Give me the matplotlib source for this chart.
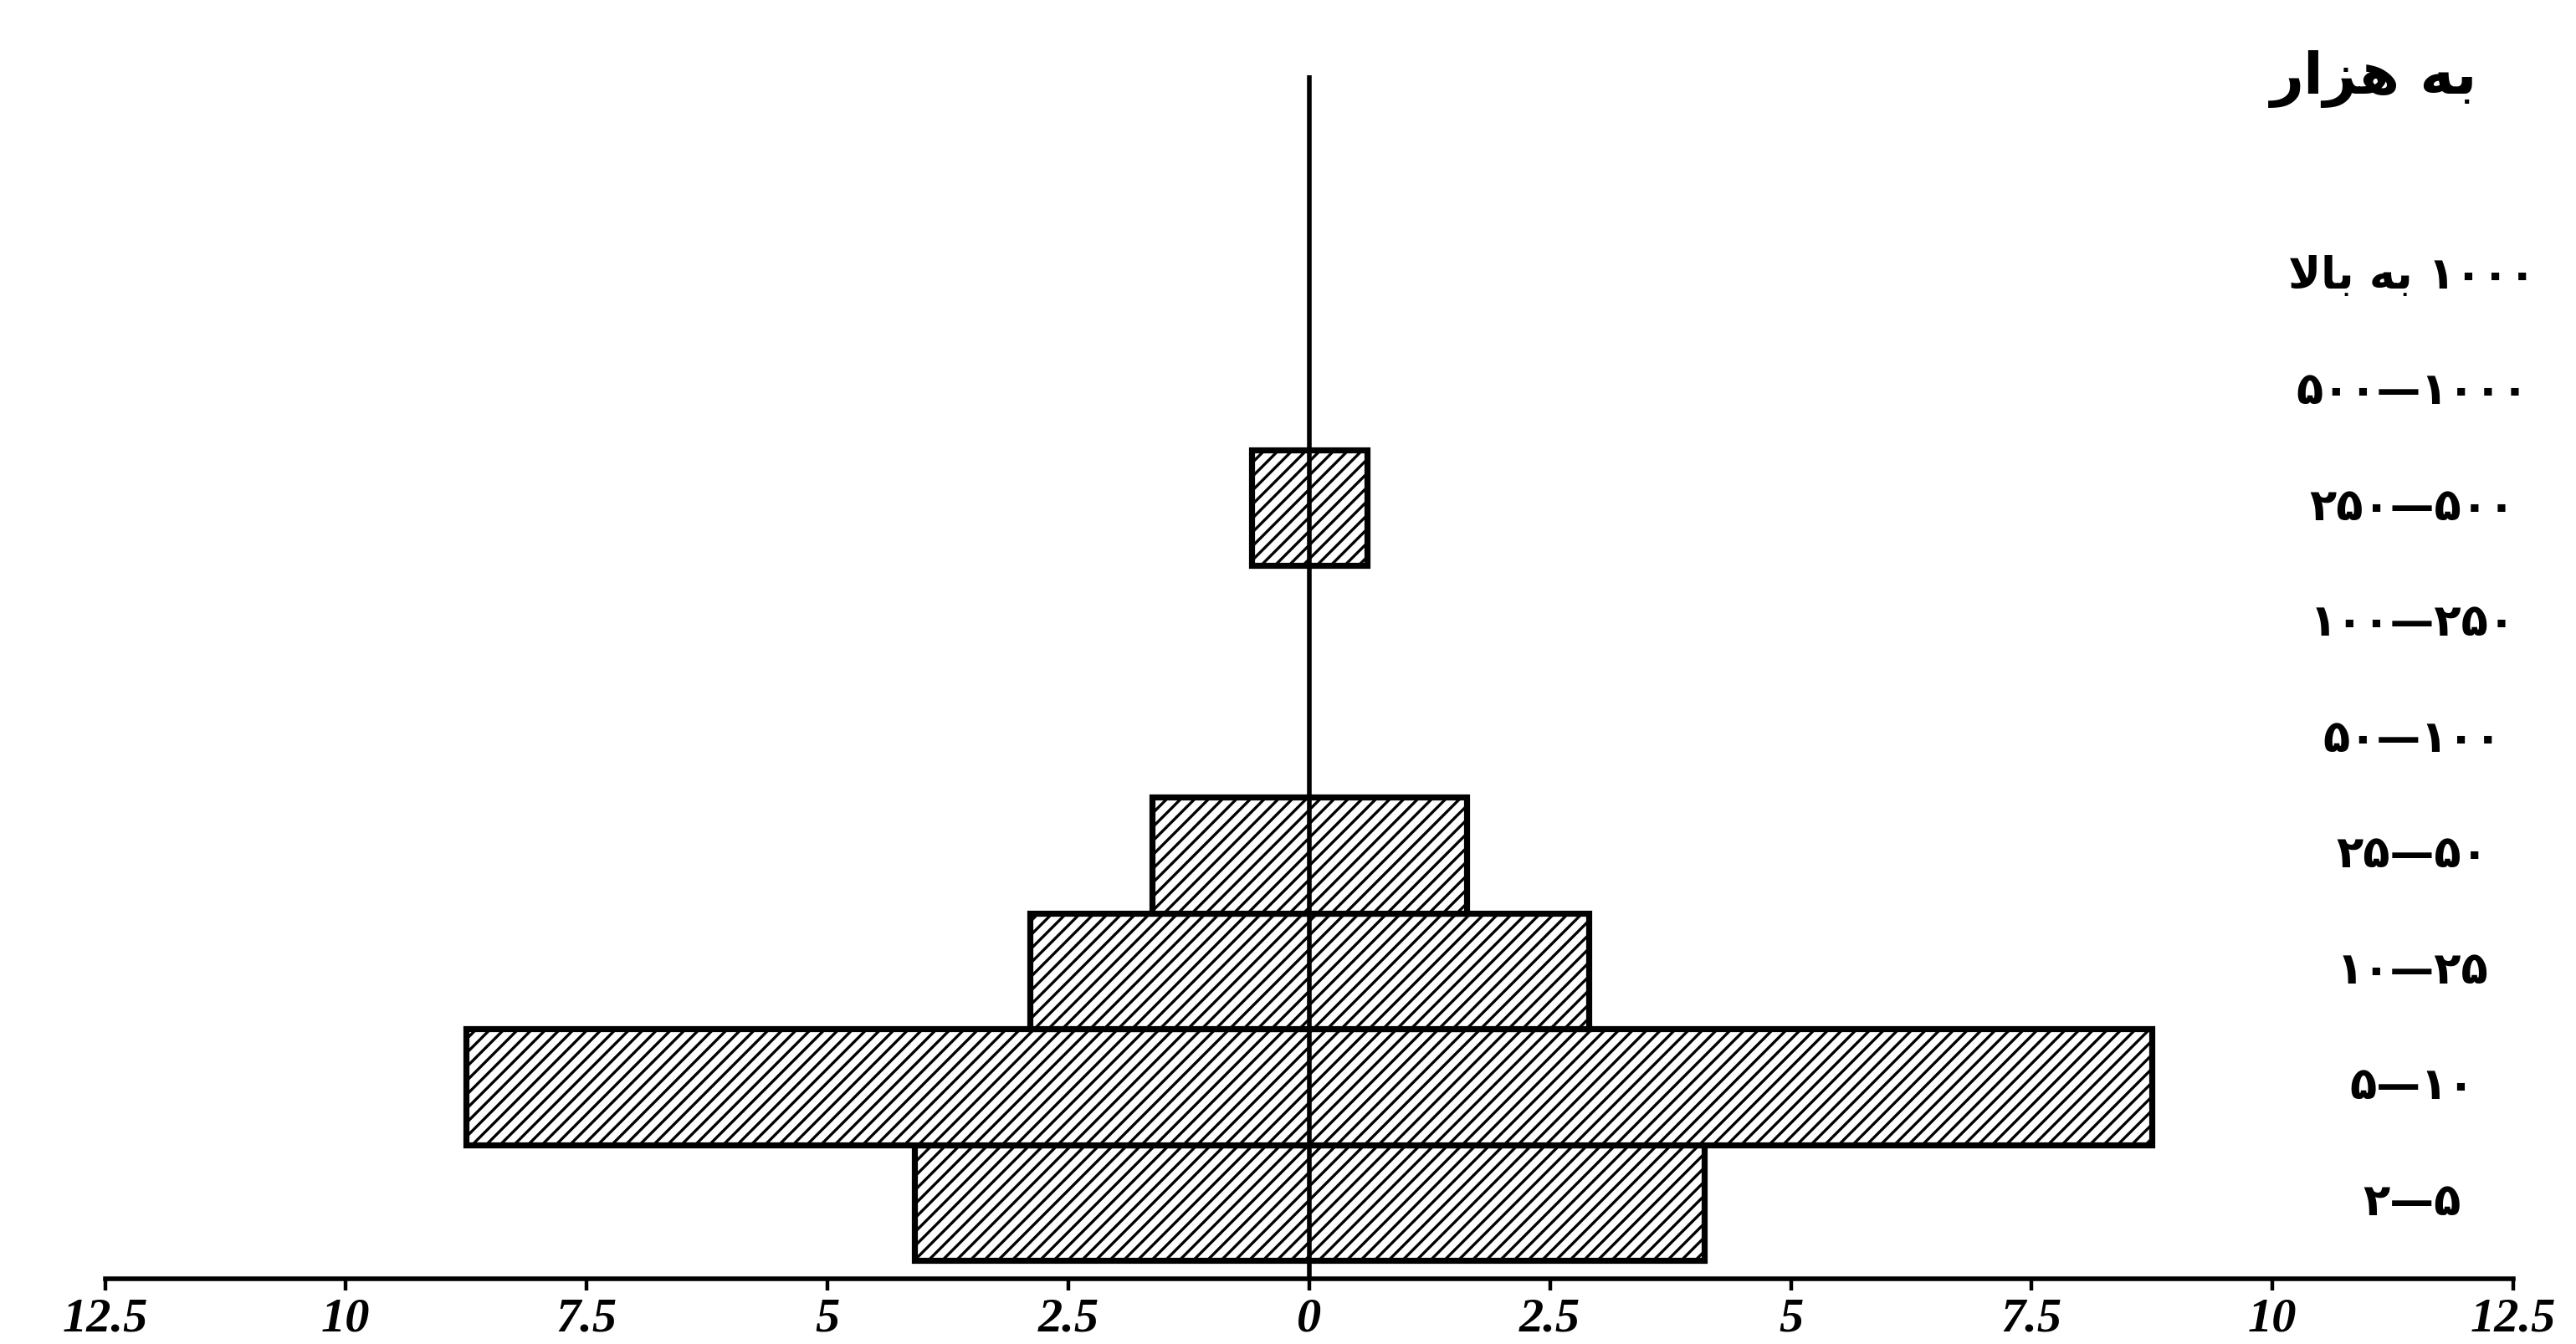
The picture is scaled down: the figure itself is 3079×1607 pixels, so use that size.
import numpy as np
import matplotlib
matplotlib.use('Agg')
import matplotlib.pyplot as plt

# income groups (bottom to top), labels as they appear on the page
groups = ['۲—۵', '۵—۱۰', '۱۰—۲۵', '۲۵—۵۰', '۵۰—۱۰۰',
          '۱۰۰—۲۵۰', '۲۵۰—۵۰۰', '۵۰۰—۱۰۰۰',
          '\uFEFB\uFE8E\uFE91 \uFEEA\uFE91 ۱۰۰۰']
# half width of each bar (same on both sides of zero)
values = [4.1, 8.75, 2.9, 1.63, 0.0, 0.0, 0.6, 0.0, 0.0]
xticks = [-12.5, -10, -7.5, -5, -2.5, 0, 2.5, 5, 7.5, 10, 12.5]
xtick_labels = ['12.5', '10', '7.5', '5', '2.5', '0', '2.5', '5', '7.5', '10', '12.5']
unit_label = '\uFEAD\uFE8D\uFEB0\uFEEB \uFEEA\uFE91'  # "به هزار"

plt.rcParams['hatch.linewidth'] = 1.2
plt.rcParams['hatch.color'] = 'black'

fig = plt.figure(figsize=(15.395, 8.035), dpi=200)
ax = fig.add_axes([0, 0, 1, 1])
ax.set_xlim(-13.59, 13.15)
ax.set_ylim(-0.72, 10.88)

axis_y = -0.16
for i, v in enumerate(values):
    if v > 0:
        ax.barh(i + 0.5, 2 * v, left=-v, height=1.0, facecolor='white',
                edgecolor='black', linewidth=2.6, hatch='////', zorder=2)

# centre line
ax.vlines(0, axis_y, 10.23, color='black', linewidth=2.0, zorder=3)

# group labels on the right
for i, g in enumerate(groups):
    ax.text(11.45, i + 0.5, g, ha='center', va='center', fontsize=19,
            fontweight='bold', family=['DejaVu Sans'])
ax.text(11.05, 10.2, unit_label, ha='center', va='center', fontsize=25,
        fontweight='bold', family=['DejaVu Sans'])

# bottom axis
for s in ['top', 'right', 'left']:
    ax.spines[s].set_visible(False)
ax.spines['bottom'].set_position(('data', axis_y))
ax.spines['bottom'].set_bounds(-12.5, 12.5)
ax.spines['bottom'].set_linewidth(2.0)
ax.set_yticks([])
ax.set_xticks(xticks)
ax.set_xticklabels(xtick_labels, fontsize=21, fontweight='bold',
                   style='italic', family='Liberation Serif')
ax.tick_params(axis='x', direction='out', length=5, width=1.6, pad=3)

fig.savefig('out.png', dpi=200, facecolor='white')
